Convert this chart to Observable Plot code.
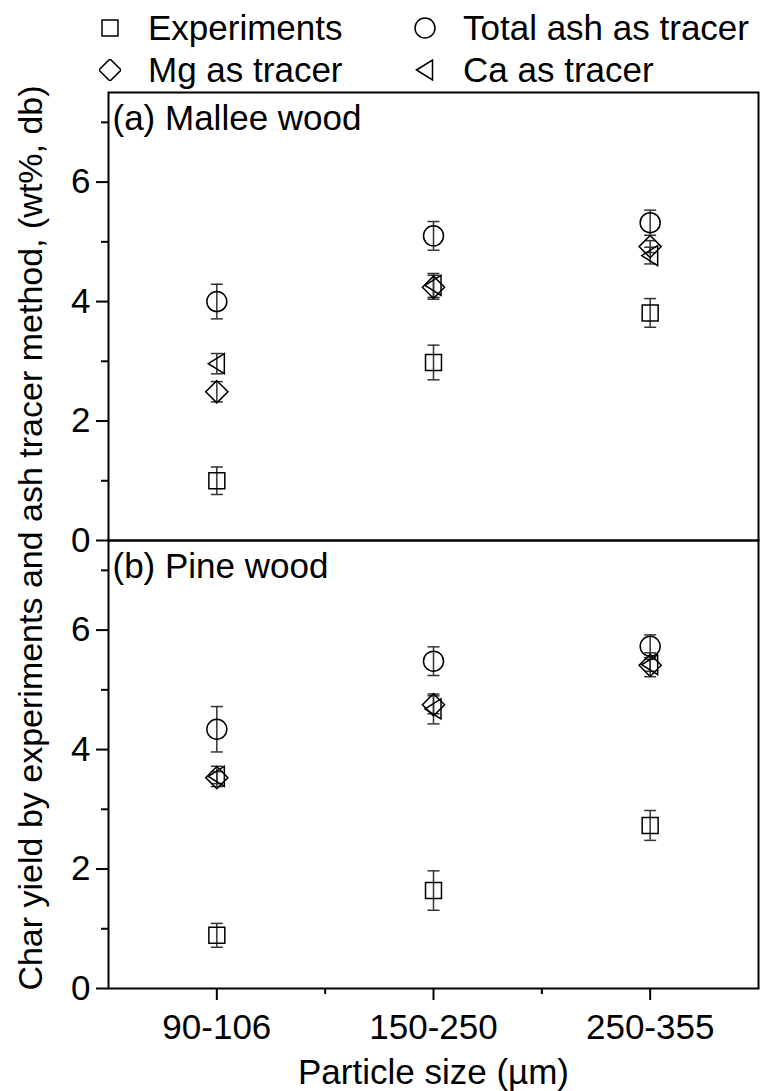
<!DOCTYPE html>
<html><head><meta charset="utf-8">
<script src="https://cdn.jsdelivr.net/npm/d3@7"></script>
<script src="https://cdn.jsdelivr.net/npm/@observablehq/plot@0.6"></script>
<style>
body{margin:0;background:#fff;font-family:"Liberation Sans",Arial,sans-serif;}
#wrap{position:relative;width:760px;height:1091px;overflow:hidden;}
#legend{position:absolute;top:7px;left:99px;display:grid;grid-template-columns:315px 320px;grid-auto-rows:42px;font-size:35px;color:#000;}
#legend .item{display:flex;align-items:center;white-space:nowrap;}
#legend svg{width:22px;height:22px;margin-right:27px;flex:none;}
#ylabel{position:absolute;left:30px;top:538px;transform:translate(-50%,-50%) rotate(-90deg);white-space:nowrap;font-size:34px;color:#000;}
</style></head><body>
<div id="wrap"><div id="chart"></div><div id="legend"></div><div id="ylabel"></div></div>
<script>
const categories = ["90-106", "150-250", "250-355"];
const panels = ["(a) Mallee wood", "(b) Pine wood"];
const seriesNames = ["Experiments", "Total ash as tracer", "Mg as tracer", "Ca as tracer"];
const yTicks = [0, 2, 4, 6];
const yMinorTicks = [1, 3, 5, 7];
const yLabel = "Char yield by experiments and ash tracer method, (wt%, db)";
const xLabel = "Particle size (\u00b5m)";

// (a) Mallee wood
const malleeExperiments = [1.00, 2.98, 3.81];
const malleeExperimentsErr = [0.23, 0.29, 0.24];
const malleeTotalAsh = [4.00, 5.10, 5.32];
const malleeTotalAshErr = [0.29, 0.24, 0.21];
const malleeMg = [2.49, 4.24, 4.92];
const malleeMgErr = [0.17, 0.20, 0.10];
const malleeCa = [2.96, 4.27, 4.77];
const malleeCaErr = [0.17, 0.20, 0.14];
// (b) Pine wood
const pineExperiments = [0.89, 1.64, 2.73];
const pineExperimentsErr = [0.20, 0.33, 0.25];
const pineTotalAsh = [4.34, 5.48, 5.73];
const pineTotalAshErr = [0.38, 0.24, 0.19];
const pineMg = [3.53, 4.75, 5.41];
const pineMgErr = [0.10, 0.15, 0.10];
const pineCa = [3.55, 4.68, 5.42];
const pineCaErr = [0.17, 0.25, 0.20];

const table = [
  [panels[0], seriesNames[0], malleeExperiments, malleeExperimentsErr],
  [panels[0], seriesNames[1], malleeTotalAsh, malleeTotalAshErr],
  [panels[0], seriesNames[2], malleeMg, malleeMgErr],
  [panels[0], seriesNames[3], malleeCa, malleeCaErr],
  [panels[1], seriesNames[0], pineExperiments, pineExperimentsErr],
  [panels[1], seriesNames[1], pineTotalAsh, pineTotalAshErr],
  [panels[1], seriesNames[2], pineMg, pineMgErr],
  [panels[1], seriesNames[3], pineCa, pineCaErr]
];
const rows = [];
for (const [panel, series, vals, errs] of table) {
  vals.forEach((v, i) => rows.push({panel, series, x: i + 1, y: v, err: errs[i]}));
}

const triLeft = {draw(ctx, size) {
  const r = Math.sqrt(size / Math.PI);
  ctx.moveTo(-r * 0.85, 0); ctx.lineTo(r * 0.75, -r); ctx.lineTo(r * 0.75, r); ctx.closePath();
}};
const capSym = {draw(ctx, size) {
  const r = Math.sqrt(size / Math.PI);
  ctx.moveTo(-r, 0); ctx.lineTo(r, 0);
}};
const symbolSpec = {
  "Experiments": {symbol: "square", r: 9},
  "Total ash as tracer": {symbol: "circle", r: 10},
  "Mg as tracer": {symbol: "diamond2", r: 10},
  "Ca as tracer": {symbol: triLeft, r: 10}
};

const seriesMarks = seriesNames.map(s => Plot.dot(rows.filter(d => d.series === s), {
  x: "x", y: "y", fy: "panel", symbol: symbolSpec[s].symbol, r: symbolSpec[s].r,
  stroke: "black", fill: "none", strokeWidth: 1.5
}));

const chart = Plot.plot({
  width: 760, height: 1091,
  marginTop: 92, marginBottom: 103, marginLeft: 108, marginRight: 2,
  style: {fontFamily: "'Liberation Sans', Arial, sans-serif", fontSize: "35px", color: "black", background: "white"},
  x: {domain: [0.5, 3.5]},
  y: {domain: [0, 7.5]},
  fy: {domain: panels, padding: 0, axis: null},
  marks: [
    Plot.ruleX(rows, {x: "x", y1: d => d.y - d.err, y2: d => d.y + d.err, fy: "panel", stroke: "#333", strokeWidth: 1.5}),
    Plot.dot(rows, {x: "x", y: d => d.y - d.err, fy: "panel", symbol: capSym, r: 6, stroke: "#333", strokeWidth: 1.5}),
    Plot.dot(rows, {x: "x", y: d => d.y + d.err, fy: "panel", symbol: capSym, r: 6, stroke: "#333", strokeWidth: 1.5}),
    ...seriesMarks,
    Plot.text(panels, {fy: d => d, text: d => d, frameAnchor: "top-left", dx: 4, dy: 13, lineAnchor: "top", textAnchor: "start", fontSize: 35}),
    Plot.axisY({ticks: yTicks, tickSize: 12, tickPadding: 6, label: null, strokeWidth: 2, fontSize: 35}),
    Plot.axisY({ticks: yMinorTicks, tickSize: 7, tickFormat: () => "", label: null, strokeWidth: 2}),
    Plot.axisX({ticks: [1, 2, 3], tickSize: 12, tickPadding: 14, tickFormat: d => categories[d - 1], label: xLabel, labelArrow: "none", labelAnchor: "center", labelOffset: 95, strokeWidth: 2, fontSize: 35}),
    Plot.axisX({ticks: [1.5, 2.5], tickSize: 6, tickFormat: () => "", label: null, strokeWidth: 2}),
    Plot.frame({stroke: "black", strokeWidth: 2})
  ]
});
document.getElementById("chart").appendChild(chart);

const legend = document.getElementById("legend");
for (const s of seriesNames) {
  const spec = symbolSpec[s];
  const type = typeof spec.symbol === "string" ? {square: d3.symbolSquare, circle: d3.symbolCircle, diamond2: d3.symbolDiamond2}[spec.symbol] : spec.symbol;
  const path = d3.symbol(type, Math.PI * spec.r * spec.r)();
  const item = document.createElement("div");
  item.className = "item";
  item.innerHTML = `<svg viewBox="-11 -11 22 22"><path d="${path}" fill="none" stroke="black" stroke-width="1.5"/></svg><span>${s}</span>`;
  legend.appendChild(item);
}
document.getElementById("ylabel").textContent = yLabel;
</script>
</body></html>
